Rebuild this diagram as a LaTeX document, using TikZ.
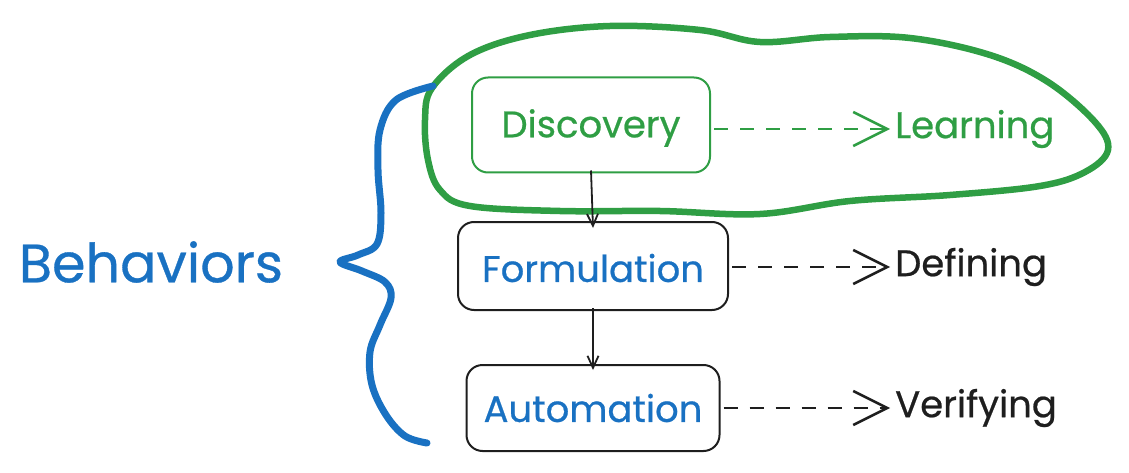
\documentclass[tikz,border=0pt]{standalone}
\usepackage{fontspec}
\setmainfont{Poppins}[FakeBold=0.6]
\usetikzlibrary{arrows.meta}
\definecolor{xgreen}{HTML}{2F9E44}
\definecolor{xblue}{HTML}{1971C2}
\definecolor{xblack}{HTML}{1E1E1E}
\tikzset{
  box/.style={draw, line width=2pt, rounded corners=16pt, inner sep=0pt},
  label/.style={font=\fontsize{37}{42}\selectfont, inner sep=0pt},
  side/.style={font=\fontsize{37}{42}\selectfont, inner sep=0pt, anchor=west},
  dasharrow/.style={line width=2.5pt, dash pattern=on 14pt off 12pt, -{Straight Barb[length=34pt,width=34pt,line width=2.5pt]}},
  downarrow/.style={line width=1.8pt, -{Straight Barb[length=12pt,width=11pt]}},
}
\begin{document}
\begin{tikzpicture}[x=1pt,y=-1pt]
\useasboundingbox (0,0) rectangle (1129,473);
% green blob
\draw[xgreen, line width=6.5pt, line cap=round, line join=round]
  plot[smooth cycle, tension=0.6] coordinates {
  (432,88) (470,55) (530,35) (610,26) (700,30) (760,42) (830,37) (910,38)
  (990,55) (1048,82) (1095,122) (1108,150) (1085,172) (1040,186) (950,195)
  (850,201) (760,214) (660,211) (560,211) (470,206) (440,190) (428,160) (425,120)};
% blue brace
\draw[xblue, line width=7pt, line cap=round, line join=round]
  plot[smooth, tension=0.6] coordinates {
  (433,86) (396,100) (380,130) (378,170) (381,213) (377,244) (358,255) (340,262)
  (362,271) (385,282) (391,298) (380,325) (370,352) (372,385) (386,415) (405,436) (427,443)};
\node[xblue, font=\fontsize{54}{60}\selectfont, inner sep=0pt] (beh) at (151,262) {Behaviors};
% boxes
\node[box, xgreen, minimum width=238pt, minimum height=95pt] (disc) at (591,125) {};
\node[xgreen, label] (disct) at (591,128) {Discovery};
\node[box, xblack, minimum width=270pt, minimum height=88pt] (form) at (593,266) {};
\node[xblue, label] (formt) at (593,268) {Formulation};
\node[box, xblack, minimum width=253pt, minimum height=86pt] (auto) at (593,408) {};
\node[xblue, label] (autot) at (593,408) {Automation};
% side labels
\node[side, xgreen] (learn) at (895,129) {Learning};
\node[side, xblack] (def) at (895,267) {Defining};
\node[side, xblack] (ver) at (895,408) {Verifying};
% dashed arrows
\draw[dasharrow, xgreen] ([xshift=3pt]disc.east |- learn.west) -- ([xshift=-5pt]learn.west);
\draw[dasharrow, xblack] ([xshift=3pt]form.east |- def.west) -- ([xshift=-5pt]def.west);
\draw[dasharrow, xblack] ([xshift=3pt]auto.east |- ver.west) -- ([xshift=-5pt]ver.west);
% down arrows
\draw[downarrow, xblack] ([yshift=3pt]disc.south) -- ([yshift=-7pt]form.north);
\draw[downarrow, xblack] ([yshift=3pt]form.south) -- ([yshift=-6pt]auto.north);
\end{tikzpicture}
\end{document}
